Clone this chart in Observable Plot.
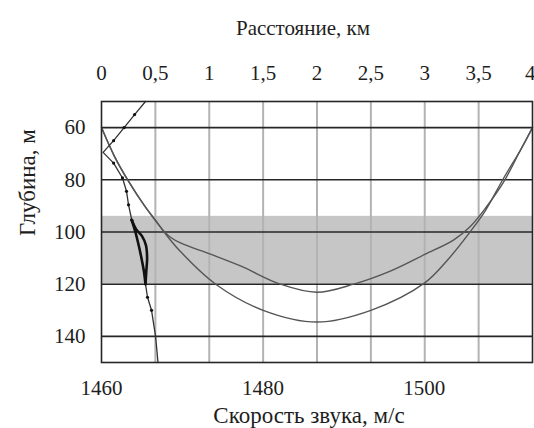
<!DOCTYPE html>
<html>
<head>
<meta charset="utf-8">
<script src="https://cdn.jsdelivr.net/npm/d3@7"></script>
<script src="https://cdn.jsdelivr.net/npm/@observablehq/plot@0.6"></script>
<style>
  html, body { margin: 0; padding: 0; background: #fff; }
  #chart svg, #chart svg text { font-family: "Liberation Serif", "Times New Roman", serif !important; }
</style>
</head>
<body>
<div id="chart"></div>
<script>
// Axis domains and ticks
const speedMin = 1460, speedMax = 1513.4, distMax = 4;
const depthMin = 50, depthMax = 150;
const speedTicks = [1460, 1480, 1500];
const distTicks = [0, 0.5, 1, 1.5, 2, 2.5, 3, 3.5, 4];
const depthTicks = [60, 80, 100, 120, 140];

// Shaded depth layer (m)
const bandTop = 94, bandBottom = 120;

// Sound-speed profile: depth (m) and speed (m/s)
const profileDepth = [50, 55, 60, 65, 69.5, 73.6, 79.3, 84.4, 89.6, 95.4, 100, 105, 110, 115, 120, 125, 130, 140, 150];
const profileSpeed = [1465.45, 1464.1, 1462.8, 1461.5, 1460.2, 1461.5, 1462.6, 1463.1, 1463.35, 1463.75, 1464.2, 1464.6, 1464.95, 1465.25, 1465.45, 1465.7, 1466.2, 1466.7, 1467.0];
const dotDepths = [55, 60, 65, 73.6, 79.3, 84.4, 89.6, 95.4, 125, 130];

// Bold profile inside the layer (loop)
const boldLeftDepth = [95.4, 100, 105, 110, 115, 120];
const boldLeftSpeed = [1463.75, 1464.2, 1464.6, 1464.95, 1465.25, 1465.45];
const boldRightDepth = [95.4, 99, 101.5, 105, 110, 115, 120];
const boldRightSpeed = [1463.75, 1464.3, 1465.0, 1465.5, 1465.65, 1465.55, 1465.45];

// Ray A (shallower turning)
const rayADist = [0, 0.12, 0.25, 0.4, 0.5, 0.575, 0.64, 0.733, 1.012, 1.29, 1.66, 2.0, 2.34, 2.68, 3.0, 3.27, 3.42, 3.57, 3.73, 3.89, 4.0];
const rayADepth = [60, 71, 80.5, 90, 95.5, 99.5, 102, 104.2, 108.5, 113, 120, 123.1, 120, 115, 108.6, 103, 98, 90.5, 81, 68.5, 60];
// Ray B (deeper turning)
const rayBDist = [0, 0.12, 0.25, 0.4, 0.5, 0.59, 0.733, 1.06, 1.5, 2.0, 2.5, 3.0, 3.21, 3.42, 3.56, 3.73, 3.89, 4.0];
const rayBDepth = [60, 71, 80.5, 90, 95.5, 100.5, 107.5, 120, 130, 134.5, 130, 119.5, 110.8, 100, 92, 79.5, 68.5, 60];

const toSpeed = km => speedMin + km * (speedMax - speedMin) / distMax;
const zip = (xs, ys, kx, ky) => xs.map((v, i) => ({[kx]: v, [ky]: ys[i]}));

const profile = zip(profileSpeed, profileDepth, "speed", "depth");
const dots = profile.filter(d => dotDepths.includes(d.depth));
const boldLeft = zip(boldLeftSpeed, boldLeftDepth, "speed", "depth");
const boldRight = zip(boldRightSpeed, boldRightDepth, "speed", "depth");
const rayA = zip(rayADist, rayADepth, "dist", "depth");
const rayB = zip(rayBDist, rayBDepth, "dist", "depth");
const fmtKm = d => String(d).replace(".", ",");

const font = "'Liberation Serif', 'Times New Roman', serif";
const ink = "#1e1e1e";

const chart = Plot.plot({
  width: 534,
  height: 428,
  marginTop: 101,
  marginBottom: 66,
  marginLeft: 101,
  marginRight: 2,
  style: {fontFamily: font, fontSize: "21px", color: ink, background: "#fff"},
  x: {domain: [speedMin, speedMax]},
  y: {domain: [depthMin, depthMax], reverse: true},
  marks: [
    Plot.rect([{x1: speedMin, x2: speedMax, y1: bandTop, y2: bandBottom}], {x1: "x1", x2: "x2", y1: "y1", y2: "y2", fill: "#c6c6c6"}),
    Plot.ruleX(distTicks.slice(1, -1), {x: toSpeed, stroke: "#b3b3b3", strokeWidth: 2}),
    Plot.ruleY(depthTicks, {stroke: "#262626", strokeWidth: 1.6}),
    Plot.line(rayA, {x: d => toSpeed(d.dist), y: "depth", curve: "catmull-rom", stroke: "#555", strokeWidth: 1.4}),
    Plot.line(rayB, {x: d => toSpeed(d.dist), y: "depth", curve: "catmull-rom", stroke: "#555", strokeWidth: 1.4}),
    Plot.line(profile, {x: "speed", y: "depth", curve: "linear", stroke: "#333", strokeWidth: 1.3}),
    Plot.dot(dots, {x: "speed", y: "depth", r: 1.6, fill: "#111", stroke: "none"}),
    Plot.line(boldLeft, {x: "speed", y: "depth", curve: "catmull-rom", stroke: "#111", strokeWidth: 2.6}),
    Plot.line(boldRight, {x: "speed", y: "depth", curve: "catmull-rom", stroke: "#111", strokeWidth: 2.6}),
    Plot.frame({stroke: "#262626", strokeWidth: 1.6}),
    Plot.axisY({ticks: depthTicks, tickSize: 0, tickPadding: 16, label: null, fontSize: 21, fontFamily: font}),
    Plot.axisX({anchor: "bottom", ticks: speedTicks, tickFormat: d => String(d), tickSize: 0, tickPadding: 18, label: null, fontSize: 21, fontFamily: font}),
    Plot.text(distTicks.slice(0, -1), {x: toSpeed, text: fmtKm, frameAnchor: "top", lineAnchor: "middle", dy: -28, fontSize: 21, fontFamily: font, fill: ink}),
    Plot.text(distTicks.slice(-1), {x: toSpeed, text: fmtKm, frameAnchor: "top", lineAnchor: "middle", textAnchor: "end", dx: 3, dy: -28, fontSize: 21, fontFamily: font, fill: ink}),
    Plot.text(["Расстояние, км"], {frameAnchor: "top", lineAnchor: "middle", dy: -73, dx: -14, fontSize: 21, fontFamily: font, fill: ink}),
    Plot.text(["Скорость звука, м/с"], {frameAnchor: "bottom", lineAnchor: "middle", dy: 53, dx: -8, fontSize: 23, fontFamily: font, fill: ink}),
    Plot.text(["Глубина, м"], {frameAnchor: "left", lineAnchor: "middle", dx: -74, dy: 4, rotate: -90, fontSize: 23, fontFamily: font, fill: ink})
  ]
});
document.getElementById("chart").appendChild(chart);
</script>
</body>
</html>
